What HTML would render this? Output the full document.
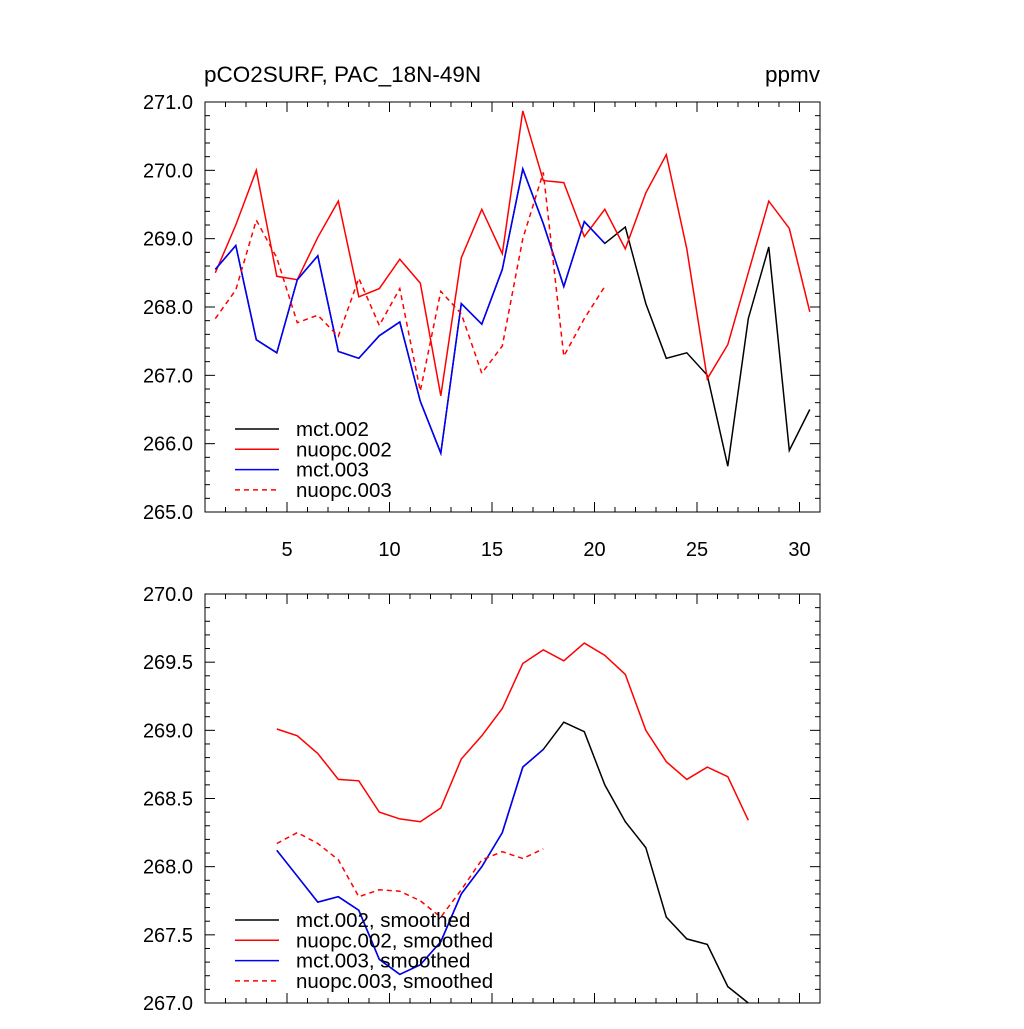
<!DOCTYPE html>
<html><head><meta charset="utf-8"><style>
body{margin:0;background:#fff}
svg text{font-family:"Liberation Sans",sans-serif;fill:#000}
</style></head><body>
<svg id="c" width="1024" height="1024" xmlns="http://www.w3.org/2000/svg"></svg>
<script>
const xTop=[1.5,2.5,3.5,4.5,5.5,6.5,7.5,8.5,9.5,10.5,11.5,12.5,13.5,14.5,15.5,16.5,17.5,18.5,19.5,20.5,21.5,22.5,23.5,24.5,25.5,26.5,27.5,28.5,29.5,30.5];
const mct002=[268.55,268.9,267.52,267.33,268.4,268.75,267.35,267.25,267.58,267.78,266.62,265.86,268.05,267.75,268.55,270.02,269.22,268.3,269.25,268.93,269.17,268.05,267.25,267.33,267.0,265.67,267.83,268.88,265.9,266.5];
const nuopc002=[268.5,269.2,270.0,268.45,268.4,269.02,269.55,268.15,268.27,268.7,268.35,266.7,268.72,269.43,268.78,270.87,269.85,269.82,269.03,269.43,268.85,269.67,270.23,268.85,266.95,267.45,268.5,269.55,269.15,267.93];
const mct003=[268.55,268.9,267.52,267.33,268.4,268.75,267.35,267.25,267.58,267.78,266.62,265.86,268.05,267.75,268.55,270.02,269.22,268.3,269.25,268.93];
const nuopc003=[267.83,268.25,269.27,268.72,267.77,267.88,267.57,268.42,267.73,268.27,266.77,268.23,267.9,267.03,267.43,269.0,269.97,267.28,267.83,268.3];
const xBot=[4.5,5.5,6.5,7.5,8.5,9.5,10.5,11.5,12.5,13.5,14.5,15.5,16.5,17.5,18.5,19.5,20.5,21.5,22.5,23.5,24.5,25.5,26.5,27.5];
const mct002s=[268.12,267.93,267.74,267.78,267.68,267.32,267.21,267.28,267.45,267.8,268.0,268.25,268.73,268.86,269.06,268.99,268.6,268.33,268.14,267.63,267.47,267.43,267.12,267.0];
const nuopc002s=[269.01,268.96,268.83,268.64,268.63,268.4,268.35,268.33,268.43,268.79,268.96,269.16,269.49,269.59,269.51,269.64,269.55,269.41,269.0,268.77,268.64,268.73,268.66,268.34];
const mct003s=[268.12,267.93,267.74,267.78,267.68,267.32,267.21,267.28,267.45,267.8,268.0,268.25,268.73,268.86];
const nuopc003s=[268.17,268.25,268.17,268.05,267.78,267.83,267.82,267.75,267.63,267.83,268.05,268.11,268.06,268.13];
const topTicks=["265.0","266.0","267.0","268.0","269.0","270.0","271.0"];
const botTicks=["267.0","267.5","268.0","268.5","269.0","269.5","270.0"];
const xTickLabels=["5","10","15","20","25","30"];

const S=document.getElementById('c');const NS='http://www.w3.org/2000/svg';
function mk(t,a,p){const e=document.createElementNS(NS,t);for(const k in a)e.setAttribute(k,a[k]);(p||S).appendChild(e);return e;}
const L=205,R=820;
const xs=v=>L+(v-1)*(R-L)/30;
function panel(name,T,B,y0,y1,ticks,minorStep,showX){
  const ys=v=>B-(v-y0)*(B-T)/(y1-y0);
  const g=mk('g',{});
  
  
  mk('rect',{x:L,y:T,width:R-L,height:B-T,fill:'none',stroke:'#000','stroke-width':1},g);
  for(let v=y0;v<=y1+1e-6;v+=minorStep){
    const major=ticks.some(t=>Math.abs(parseFloat(t)-v)<1e-6);
    const len=major?10:5;
    mk('line',{x1:L,x2:L+len,y1:ys(v),y2:ys(v),stroke:'#000'},g);
    mk('line',{x1:R,x2:R-len,y1:ys(v),y2:ys(v),stroke:'#000'},g);
  }
  ticks.forEach(t=>{const e=mk('text',{x:L-12,y:ys(parseFloat(t))+7,'text-anchor':'end','font-size':20},g);e.textContent=t;
    });
  for(let x=2;x<=30;x++){const len=x%5==0?10:5;
    mk('line',{x1:xs(x),x2:xs(x),y1:B,y2:B-len,stroke:'#000'},g);
    mk('line',{x1:xs(x),x2:xs(x),y1:T,y2:T+len,stroke:'#000'},g);}
  if(showX)xTickLabels.forEach(t=>{const e=mk('text',{x:xs(+t),y:B+44,'text-anchor':'middle','font-size':20},g);e.textContent=t;
    });
  return {ys,g};
}
function series(p,xv,yv,color,dash,name){
  const d=xv.map((x,i)=>(i?'L':'M')+xs(x).toFixed(1)+','+p.ys(yv[i]).toFixed(1)).join('');
  const e=mk('path',{d,fill:'none',stroke:color,'stroke-width':1.5,'stroke-dasharray':dash?'5,4':'none'},p.g);
  
  
}
function legend(p,items,y){
  items.forEach((it,i)=>{const yy=y+i*20.3;
    mk('line',{x1:235,x2:279,y1:yy,y2:yy,stroke:it[1],'stroke-width':1.5,'stroke-dasharray':it[2]?'5,4':'none'},p.g);
    const e=mk('text',{x:296,y:yy+7,'font-size':20.5},p.g);e.textContent=it[0];
    
    
  });
}
const t1=mk('text',{x:204,y:82,'font-size':22.5});t1.textContent='pCO2SURF, PAC_18N-49N';


const t2=mk('text',{x:820,y:82,'font-size':22.5,'text-anchor':'end'});t2.textContent='ppmv';


const p1=panel('top-panel',102,512,265,271,topTicks,0.2,true);
series(p1,xTop,mct002,'#000',false,'line-mct002');
series(p1,xTop,nuopc002,'#f00',false,'line-nuopc002');
series(p1,xTop.slice(0,mct003.length),mct003,'#00f',false,'line-mct003');
series(p1,xTop.slice(0,nuopc003.length),nuopc003,'#f00',true,'line-nuopc003');
legend(p1,[['mct.002','#000'],['nuopc.002','#f00'],['mct.003','#00f'],['nuopc.003','#f00',1]],429);
const p2=panel('bottom-panel',594,1003,267,270,botTicks,0.1,false);
series(p2,xBot,mct002s,'#000',false,'line-mct002-smoothed');
series(p2,xBot,nuopc002s,'#f00',false,'line-nuopc002-smoothed');
series(p2,xBot.slice(0,mct003s.length),mct003s,'#00f',false,'line-mct003-smoothed');
series(p2,xBot.slice(0,nuopc003s.length),nuopc003s,'#f00',true,'line-nuopc003-smoothed');
legend(p2,[['mct.002, smoothed','#000'],['nuopc.002, smoothed','#f00'],['mct.003, smoothed','#00f'],['nuopc.003, smoothed','#f00',1]],920);
</script>
</body></html>
